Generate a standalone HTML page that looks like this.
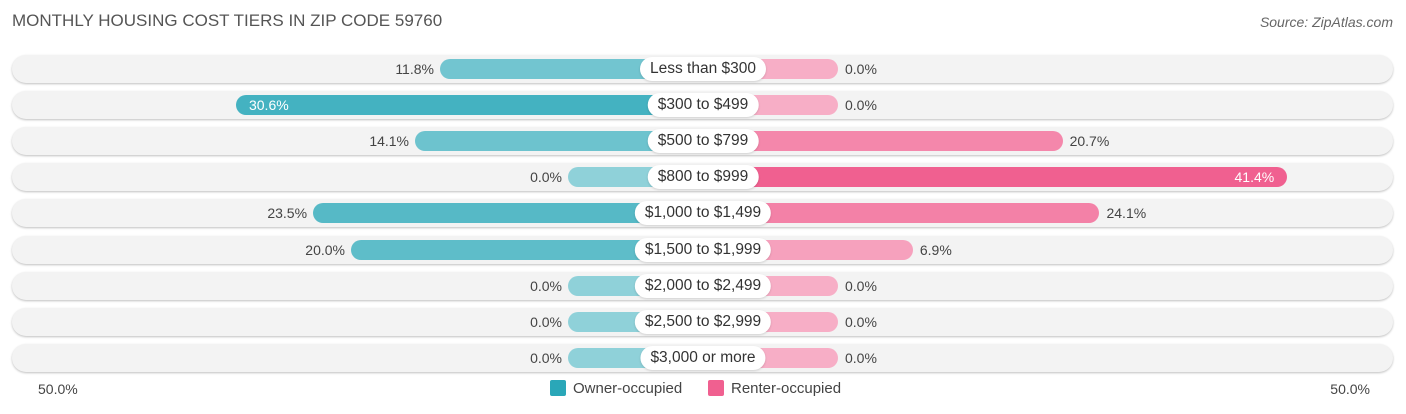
<!DOCTYPE html>
<html><head><meta charset="utf-8"><style>
body{margin:0;width:1406px;height:414px;background:#fff;font-family:"Liberation Sans",sans-serif;position:relative;overflow:hidden}
.abs{position:absolute}
.row{position:absolute;left:12px;width:1381px;height:28px;border-radius:14px;background:#f3f3f3;box-shadow:0 1px 2px rgba(0,0,0,.25)}
.bar{position:absolute;height:20px;border-radius:10px}
.val{position:absolute;font-size:14px;color:#444;line-height:20px}
.lab{position:absolute;height:24px;line-height:24px;border-radius:12px;background:#fff;font-size:15.5px;color:#333;padding:0 10px;transform:translateX(-50%);white-space:nowrap;box-shadow:0 1px 2px rgba(0,0,0,.15)}
</style></head><body>
<div class="abs" style="left:12px;top:11px;font-size:17px;color:#555">MONTHLY HOUSING COST TIERS IN ZIP CODE 59760</div>
<div class="abs" style="right:13px;top:14px;font-size:14px;color:#666;font-style:italic">Source: ZipAtlas.com</div>
<div id="chart"></div>
<div class="abs" style="left:38px;top:381px;font-size:14px;color:#444">50.0%</div>
<div class="abs" style="right:36px;top:381px;font-size:14px;color:#444">50.0%</div>
<div class="abs" style="left:550px;top:380px;font-size:15px;color:#444"><span style="display:inline-block;width:16px;height:16px;background:#2aa7b8;vertical-align:-3px;margin-right:7px;border-radius:2px"></span>Owner-occupied</div>
<div class="abs" style="left:708px;top:380px;font-size:15px;color:#444"><span style="display:inline-block;width:16px;height:16px;background:#f06090;vertical-align:-3px;margin-right:7px;border-radius:2px"></span>Renter-occupied</div>
<script>
const categories=["Less than $300","$300 to $499","$500 to $799","$800 to $999","$1,000 to $1,499","$1,500 to $1,999","$2,000 to $2,499","$2,500 to $2,999","$3,000 or more"];
const ownerValues=[11.8,30.6,14.1,0.0,23.5,20.0,0.0,0.0,0.0];
const renterValues=[0.0,0.0,20.7,41.4,24.1,6.9,0.0,0.0,0.0];
const CX=703,BASE=135,K=10.85,TOP0=55,STEP=36.1;
function len(v){return BASE+K*v;}
const maxV=Math.max(...ownerValues,...renterValues);
function mix(a,b,t){return 'rgb('+a.map((x,i)=>Math.round(x+(b[i]-x)*t)).join(',')+')';}
const c=document.getElementById('chart');
categories.forEach((cat,i)=>{
  const top=TOP0+i*STEP;
  const row=document.createElement('div');row.className='row';row.style.top=top+'px';
  
  
  c.appendChild(row);
  const ov=ownerValues[i],rv=renterValues[i];
  const ob=document.createElement('div');ob.className='bar';
  const ol=len(ov);ob.style.left=(CX-ol)+'px';ob.style.width=ol+'px';ob.style.top=(top+4)+'px';
  ob.style.background=mix([143,209,217],[42,167,184],ov/maxV);
  
  
  c.appendChild(ob);
  const rb=document.createElement('div');rb.className='bar';
  const rl=len(rv);rb.style.left=CX+'px';rb.style.width=rl+'px';rb.style.top=(top+4)+'px';
  rb.style.background=mix([247,174,198],[240,96,144],rv/maxV);
  
  
  c.appendChild(rb);
  const otx=document.createElement('div');otx.className='val';otx.textContent=ov.toFixed(1)+'%';otx.style.top=(top+4)+'px';
  if(ov>28){otx.style.left=(CX-ol+13)+'px';otx.style.color='#fff';}else{otx.style.right=(1406-(CX-ol)+6)+'px';}
  
  
  c.appendChild(otx);
  const rtx=document.createElement('div');rtx.className='val';rtx.textContent=rv.toFixed(1)+'%';rtx.style.top=(top+4)+'px';
  if(rv>28){rtx.style.right=(1406-(CX+rl)+13)+'px';rtx.style.color='#fff';}else{rtx.style.left=(CX+rl+7)+'px';}
  
  
  c.appendChild(rtx);
  const lb=document.createElement('div');lb.className='lab';lb.textContent=cat;lb.style.left=CX+'px';lb.style.top=(top+2)+'px';
  
  
  c.appendChild(lb);
});
</script>
</body></html>
